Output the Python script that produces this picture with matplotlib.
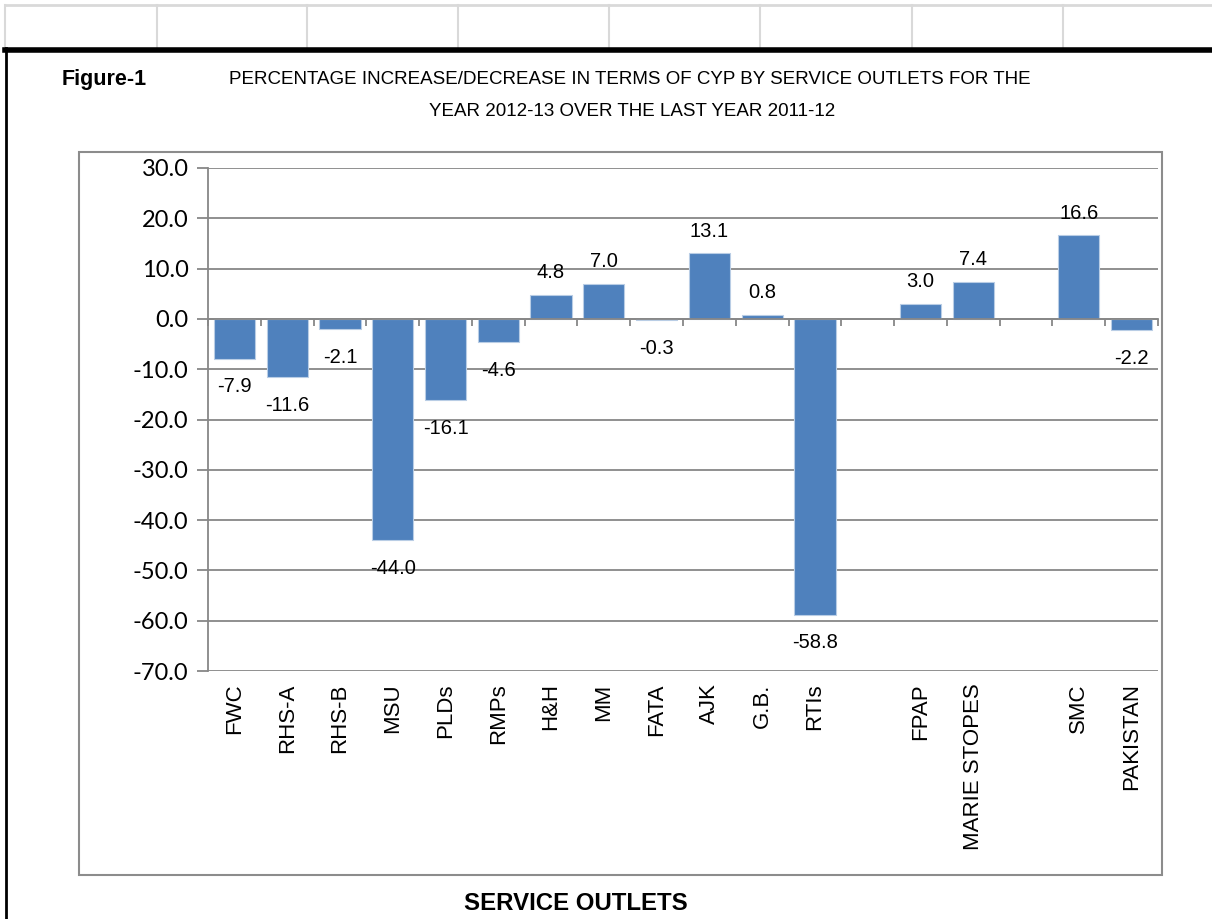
import numpy as np
import matplotlib
matplotlib.use("Agg")
import matplotlib.pyplot as plt
from matplotlib.lines import Line2D
from matplotlib.patches import Rectangle


# service outlets (blank slots are empty categories in the sheet)
outlets = ["FWC", "RHS-A", "RHS-B", "MSU", "PLDs", "RMPs", "H&H", "MM",
           "FATA", "AJK", "G.B.", "RTIs", "", "FPAP", "MARIE STOPES", "",
           "SMC", "PAKISTAN"]
# percentage change in CYP, 2012-13 over 2011-12
change = [-7.9, -11.6, -2.1, -44.0, -16.1, -4.6, 4.8, 7.0,
          -0.3, 13.1, 0.8, -58.8, np.nan, 3.0, 7.4, np.nan,
          16.6, -2.2]
y_ticks = [-70, -60, -50, -40, -30, -20, -10, 0, 10, 20, 30]

W, H = 1212, 919
fig = plt.figure(figsize=(W / 100, H / 100), dpi=100)

# spreadsheet cell borders behind the chart
grey_cell = "#d9d9d9"
fig.add_artist(Line2D([5 / W, 1], [1 - 5 / H, 1 - 5 / H], color=grey_cell, lw=2))
for cx in [5, 157, 307, 458, 609, 760, 912, 1063]:
    fig.add_artist(Line2D([cx / W, cx / W], [1 - 5 / H, 1 - 47 / H], color=grey_cell, lw=1.5))
fig.add_artist(Line2D([5 / W, 1], [1 - 50 / H, 1 - 50 / H], color="black", lw=4))
fig.add_artist(Line2D([6 / W, 6 / W], [0, 1 - 48 / H], color="black", lw=2))

# chart area frame
fig.add_artist(Rectangle((79 / W, 1 - 875 / H), (1162 - 79) / W, (875 - 152) / H,
                         transform=fig.transFigure, fill=False,
                         edgecolor="#8c8c8c", lw=1.5))

ax = fig.add_axes([208 / W, 1 - 671 / H, 950 / W, 503 / H])

pos = np.arange(len(outlets))
vals = np.array(change, dtype=float)
has = ~np.isnan(vals)
ax.bar(pos[has], vals[has], width=0.78, color="#4f81bd",
       edgecolor="#b9cde5", linewidth=0.8, zorder=3)

for x, v in zip(pos[has], vals[has]):
    if v >= 0:
        ax.annotate(f"{v:.1f}", (x, v), xytext=(0, 9), textcoords="offset points",
                    ha="center", va="bottom", fontsize=14.5, family="Liberation Sans")
    else:
        ax.annotate(f"{v:.1f}", (x, v), xytext=(0, -13.5), textcoords="offset points",
                    ha="center", va="top", fontsize=14.5, family="Liberation Sans")

axis_grey = "#878787"
ax.set_xlim(-0.5, len(outlets) - 0.5)
ax.set_ylim(-70, 30)
ax.set_yticks(y_ticks)
ax.set_yticklabels([f"{t:.1f}" for t in y_ticks], fontsize=17, family="Lato")
ax.yaxis.grid(True, color=axis_grey, lw=1.3)
ax.set_axisbelow(True)
ax.tick_params(axis="y", direction="out", length=8, width=1.3, color=axis_grey, pad=6)

ax.spines["top"].set_visible(False)
ax.spines["right"].set_visible(False)
ax.spines["left"].set_color(axis_grey)
ax.spines["left"].set_linewidth(1.3)
ax.spines["bottom"].set_position(("data", 0))
ax.spines["bottom"].set_color(axis_grey)
ax.spines["bottom"].set_linewidth(1.3)
ax.spines["bottom"].set_zorder(4)

ax.set_xticks([])
ax.set_xticks(np.arange(-0.5, len(outlets), 1), minor=True)
ax.tick_params(axis="x", which="minor", direction="out", length=5, width=1.3,
               color=axis_grey, labelbottom=False)

# category names sit below the plot area, not at the zero line
sec = ax.secondary_xaxis("bottom")
sec.set_xticks(pos)
sec.set_xticklabels(outlets, rotation=90, va="top", fontsize=16, family="Liberation Sans")
sec.tick_params(length=0, pad=9)
sec.spines["bottom"].set_visible(False)

fig.text(62 / W, 1 - 80 / H, "Figure-1", fontsize=15.5, fontweight="bold",
         family="Liberation Sans", ha="left", va="center")
fig.text(630 / W, 1 - 80 / H,
         "PERCENTAGE INCREASE/DECREASE IN TERMS OF CYP BY SERVICE OUTLETS FOR THE",
         fontsize=13.5, family="Liberation Sans", ha="center", va="center")
fig.text(632 / W, 1 - 112 / H, "YEAR 2012-13 OVER THE LAST YEAR 2011-12",
         fontsize=13.5, family="Liberation Sans", ha="center", va="center")
fig.text(576 / W, 1 - 903 / H, "SERVICE OUTLETS", fontsize=17.3, fontweight="bold",
         family="Liberation Sans", ha="center", va="center")

fig.savefig("out.png", dpi=100)
